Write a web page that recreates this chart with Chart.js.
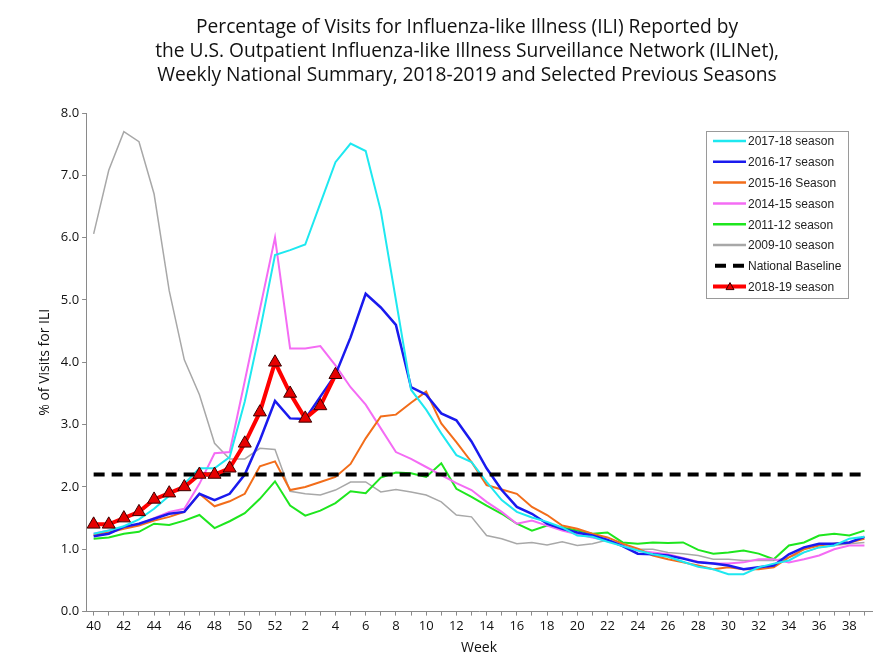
<!DOCTYPE html>
<html>
<head>
<meta charset="utf-8">
<script src="https://cdn.jsdelivr.net/npm/chart.js@4.4.1/dist/chart.umd.min.js"></script>
<style>
  html, body { margin: 0; padding: 0; background: #fff; }
  #wrap { width: 892px; height: 658px; position: relative; }
</style>
</head>
<body>
<div id="wrap"><canvas id="ili-chart" width="892" height="658"></canvas></div>
<script>
// weeks of the flu season, 40 .. 52 then 1 .. 39
const weeks = ['40','41','42','43','44','45','46','47','48','49','50','51','52',
    '1','2','3','4','5','6','7','8','9','10','11','12','13','14','15','16','17','18','19',
    '20','21','22','23','24','25','26','27','28','29','30','31','32','33','34','35','36','37','38','39'];

const yTicks = [0, 1, 2, 3, 4, 5, 6, 7, 8];
const nationalBaseline = 2.2;

const titleLines = [
    'Percentage of Visits for Influenza-like Illness (ILI) Reported by',
    'the U.S. Outpatient Influenza-like Illness Surveillance Network (ILINet),',
    'Weekly National Summary, 2018-2019 and Selected Previous Seasons'
];

const season1819 = [1.4, 1.4, 1.5, 1.6, 1.8, 1.9, 2.0, 2.2, 2.2, 2.3, 2.7, 3.2, 4.0,
    3.5, 3.1, 3.3, 3.8];

const season1718 = [1.25, 1.3, 1.37, 1.48, 1.65, 1.86, 2.05, 2.3, 2.3, 2.48, 3.37, 4.5, 5.72,
    5.8, 5.89, 6.55, 7.21, 7.51, 7.39, 6.43, 5.0, 3.56,
    3.24, 2.86, 2.51, 2.4, 2.08, 1.79, 1.6, 1.51,
    1.44, 1.35, 1.22, 1.2, 1.12, 1.05, 0.98, 0.92, 0.88, 0.8, 0.72,
    0.68, 0.6, 0.6, 0.71, 0.77, 0.82, 0.95, 1.03, 1.06, 1.17, 1.2];

const season1617 = [1.21, 1.25, 1.36, 1.41, 1.49, 1.57, 1.6, 1.89, 1.79, 1.89, 2.2, 2.75, 3.38,
    3.1, 3.09, 3.45, 3.8, 4.4, 5.1, 4.88, 4.6, 3.6,
    3.48, 3.18, 3.07, 2.73, 2.3, 1.95, 1.68, 1.57,
    1.41, 1.33, 1.27, 1.22, 1.15, 1.05, 0.93, 0.92, 0.9, 0.85, 0.79,
    0.77, 0.74, 0.68, 0.71, 0.74, 0.92, 1.03, 1.09, 1.09, 1.11, 1.2];

const season1516 = [1.23, 1.27, 1.33, 1.38, 1.46, 1.52, 1.6, 1.89, 1.69, 1.77, 1.89, 2.33, 2.41,
    1.95, 2.0, 2.08, 2.16, 2.37, 2.78, 3.13, 3.16, 3.35,
    3.53, 3.02, 2.72, 2.4, 2.03, 1.96, 1.89, 1.68,
    1.55, 1.38, 1.33, 1.25, 1.19, 1.09, 1.01, 0.9, 0.84, 0.79, 0.74,
    0.68, 0.71, 0.68, 0.68, 0.71, 0.87, 1.0, 1.06, 1.09, 1.11, 1.17];

const season1415 = [1.25, 1.3, 1.35, 1.4, 1.5, 1.6, 1.65, 2.05, 2.54, 2.56, 3.7, 4.85, 6.0,
    4.22, 4.22, 4.26, 3.95, 3.6, 3.32, 2.94, 2.56, 2.45,
    2.32, 2.19, 2.06, 1.95, 1.76, 1.6, 1.41, 1.46,
    1.38, 1.3, 1.24, 1.19, 1.14, 1.07, 0.98, 0.95, 0.92, 0.86, 0.8,
    0.77, 0.77, 0.79, 0.84, 0.84, 0.79, 0.84, 0.9, 1.0, 1.06, 1.06];

const season1112 = [1.17, 1.19, 1.25, 1.28, 1.41, 1.39, 1.46, 1.55, 1.34, 1.45, 1.58, 1.81, 2.09,
    1.7, 1.54, 1.62, 1.74, 1.93, 1.9, 2.15, 2.23, 2.22,
    2.16, 2.38, 1.97, 1.84, 1.7, 1.57, 1.41, 1.3,
    1.38, 1.35, 1.3, 1.25, 1.27, 1.11, 1.09, 1.11, 1.1, 1.11, 0.99,
    0.93, 0.95, 0.98, 0.93, 0.84, 1.06, 1.11, 1.22, 1.25, 1.22, 1.3];

const season0910 = [6.06, 7.08, 7.7, 7.54, 6.7, 5.15, 4.04, 3.48, 2.7, 2.45, 2.45, 2.62, 2.6,
    1.93, 1.89, 1.87, 1.95, 2.08, 2.08, 1.92, 1.96, 1.92,
    1.87, 1.76, 1.55, 1.52, 1.22, 1.17, 1.09, 1.11,
    1.07, 1.12, 1.06, 1.09, 1.15, 1.08, 1.0, 1.0, 0.95, 0.93, 0.9,
    0.84, 0.84, 0.82, 0.82, 0.82, 0.87, 0.95, 1.03, 1.06, 1.09, 1.11];

const FONT = "'Open Sans', 'Liberation Sans', Arial, sans-serif";
const LEGEND_FONT = "'Liberation Sans', Arial, sans-serif";

const lineSet = (label, data, color, width) => ({
    label: label,
    data: data,
    borderColor: color,
    backgroundColor: color,
    borderWidth: width,
    pointRadius: 0,
    tension: 0,
    fill: false
});

// title is drawn by hand so it can sit a bit right of the canvas centre, as in the original
const offsetTitle = {
    id: 'offsetTitle',
    afterDraw(chart) {
        const ctx = chart.ctx;
        ctx.save();
        ctx.font = '19.2px ' + FONT;
        ctx.fillStyle = '#111';
        ctx.textAlign = 'center';
        ctx.textBaseline = 'middle';
        titleLines.forEach((line, i) => ctx.fillText(line, 467, 28 + i * 24));
        ctx.restore();
    }
};

// legend sits inside the plot, boxed, like the original
const boxedLegend = {
    id: 'boxedLegend',
    afterDraw(chart) {
        const ctx = chart.ctx;
        const area = chart.chartArea;
        const left = area.right - 166;
        const top = area.top + 18;
        const w = 142, h = 167;
        const order = [2, 3, 4, 5, 6, 7, 1, 0]; // dataset indexes in legend order

        ctx.save();
        ctx.fillStyle = '#fff';
        ctx.fillRect(left, top, w, h);
        ctx.strokeStyle = '#9a9a9a';
        ctx.lineWidth = 1;
        ctx.strokeRect(left + 0.5, top + 0.5, w, h);

        ctx.font = '12px ' + LEGEND_FONT;
        ctx.textBaseline = 'middle';
        order.forEach((idx, row) => {
            const ds = chart.data.datasets[idx];
            const y = top + 10 + row * 20.8;
            ctx.beginPath();
            ctx.strokeStyle = ds.borderColor;
            ctx.lineWidth = Math.max(ds.borderWidth, 2.5);
            ctx.setLineDash(ds.borderDash || []);
            if (ds.borderDash) {
                ctx.moveTo(left + 9, y);
                ctx.lineTo(left + 41, y);
            } else {
                ctx.moveTo(left + 7, y);
                ctx.lineTo(left + 40, y);
            }
            ctx.stroke();
            ctx.setLineDash([]);
            if (ds.pointStyle === 'triangle') {
                ctx.beginPath();
                ctx.moveTo(left + 24, y - 4);
                ctx.lineTo(left + 28, y + 3);
                ctx.lineTo(left + 20, y + 3);
                ctx.closePath();
                ctx.fillStyle = ds.pointBackgroundColor;
                ctx.fill();
                ctx.strokeStyle = ds.pointBorderColor;
                ctx.lineWidth = 1;
                ctx.stroke();
            }
            ctx.fillStyle = '#222';
            ctx.fillText(ds.label, left + 42, y + 1);
        });
        ctx.restore();
    }
};

const ctx = document.getElementById('ili-chart').getContext('2d');

new Chart(ctx, {
    type: 'line',
    data: {
        labels: weeks,
        datasets: [
            {
                label: '2018-19 season',
                data: season1819,
                borderColor: '#ff0000',
                borderWidth: 4,
                pointStyle: 'triangle',
                pointRadius: 7.5,
                pointBackgroundColor: '#e60000',
                pointBorderColor: '#3a0000',
                pointBorderWidth: 1,
                tension: 0,
                fill: false
            },
            {
                label: 'National Baseline',
                data: [{ x: weeks[0], y: nationalBaseline }, { x: weeks[weeks.length - 1], y: nationalBaseline }],
                borderColor: '#000',
                borderWidth: 4,
                borderDash: [11, 7],
                pointRadius: 0,
                fill: false
            },
            lineSet('2017-18 season', season1718, '#1ee8f0', 2),
            lineSet('2016-17 season', season1617, '#1a1aee', 2.5),
            lineSet('2015-16 Season', season1516, '#f26d1a', 2),
            lineSet('2014-15 season', season1415, '#f46cf4', 2),
            lineSet('2011-12 season', season1112, '#1ee61e', 2),
            lineSet('2009-10 season', season0910, '#a8a8a8', 1.5)
        ]
    },
    options: {
        responsive: false,
        animation: false,
        layout: { padding: { left: 37, right: 20, top: 113, bottom: 2 } },
        plugins: {
            legend: { display: false },
            tooltip: { enabled: false },
            title: { display: false }
        },
        scales: {
            x: {
                type: 'category',
                offset: true,
                border: { color: '#8a8a8a', width: 1 },
                grid: { drawOnChartArea: false, drawTicks: true, tickLength: 4, color: '#8a8a8a' },
                ticks: {
                    autoSkip: false,
                    maxRotation: 0,
                    color: '#111',
                    padding: 3,
                    font: { family: FONT, size: 13 },
                    callback: (val, i) => (i % 2 === 0 ? weeks[i] : '')
                },
                title: {
                    display: true,
                    text: 'Week',
                    color: '#111',
                    font: { family: FONT, size: 14 },
                    padding: { top: 2, bottom: 0 }
                }
            },
            y: {
                min: yTicks[0],
                max: yTicks[yTicks.length - 1],
                border: { color: '#8a8a8a', width: 1 },
                grid: { drawOnChartArea: false, drawTicks: true, tickLength: 4, color: '#8a8a8a' },
                afterBuildTicks: (scale) => { scale.ticks = yTicks.map(v => ({ value: v })); },
                ticks: {
                    color: '#111',
                    padding: 3,
                    font: { family: FONT, size: 13 },
                    callback: (v) => Number(v).toFixed(1)
                },
                title: {
                    display: true,
                    text: '% of Visits for ILI',
                    color: '#111',
                    font: { family: FONT, size: 14 },
                    padding: { top: 0, bottom: 4 }
                }
            }
        }
    },
    plugins: [offsetTitle, boxedLegend]
});
</script>
</body>
</html>
